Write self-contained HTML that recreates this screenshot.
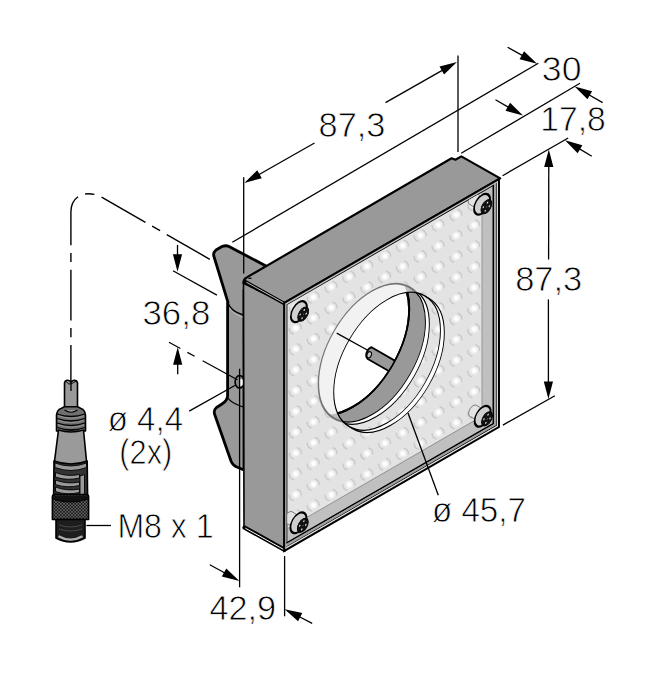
<!DOCTYPE html>
<html><head><meta charset="utf-8"><style>
html,body{margin:0;padding:0;background:#fff;}
svg{display:block;}
text{font-family:"Liberation Sans",sans-serif;fill:#000;stroke:#fff;stroke-width:0.8px;}
</style></head><body>
<svg width="651" height="700" viewBox="0 0 651 700">
<defs>
<radialGradient id="led" cx="0.5" cy="0.5" r="0.5">
<stop offset="0" stop-color="#fff"/><stop offset="0.3" stop-color="#fff"/><stop offset="0.65" stop-color="#fff" stop-opacity="0.45"/><stop offset="1" stop-color="#fff" stop-opacity="0"/>
</radialGradient>
<clipPath id="cCs"><circle cx="79.1" cy="78.3" r="65.2" transform="matrix(0.866,-0.5,0,1,284.2,303)"/></clipPath>
<clipPath id="openclip"><rect x="3.6" y="3.6" width="237.4" height="237.4"/></clipPath>
<clipPath id="panelclip"><rect x="3.7" y="3.7" width="224.5" height="223.8" transform="matrix(0.866,-0.5,0,1,284.2,303)"/></clipPath>
</defs>
<line x1="458" y1="55.4" x2="458" y2="152" stroke="#000" stroke-width="1.3" />
<line x1="314.5" y1="142.96" x2="257.77" y2="175.24" stroke="#000" stroke-width="1.3" />
<polygon points="244.3,182.9 257.24,170.25 261.79,178.24" fill="#000"/>
<line x1="385.5" y1="102.6" x2="443.53" y2="69.57" stroke="#000" stroke-width="1.3" />
<polygon points="457,61.9 444.07,74.55 439.52,66.56" fill="#000"/>
<line x1="232.3" y1="242.3" x2="538.3" y2="63.2" stroke="#000" stroke-width="1.3" />
<line x1="461.2" y1="153.3" x2="580" y2="83.2" stroke="#000" stroke-width="1.3" />
<line x1="502.6" y1="175.7" x2="568.2" y2="138" stroke="#000" stroke-width="1.3" />
<line x1="507.6" y1="47.2" x2="523.57" y2="56.13" stroke="#000" stroke-width="1.3" />
<polygon points="537.1,63.7 519.58,59.17 524.07,51.14" fill="#000"/>
<line x1="602.6" y1="102.6" x2="588.04" y2="94.23" stroke="#000" stroke-width="1.3" />
<polygon points="574.6,86.5 592.06,91.24 587.48,99.21" fill="#000"/>
<line x1="495.5" y1="99.8" x2="509.54" y2="107.82" stroke="#000" stroke-width="1.3" />
<polygon points="523,115.5 505.52,110.82 510.08,102.83" fill="#000"/>
<line x1="591.8" y1="156.3" x2="578.29" y2="148.18" stroke="#000" stroke-width="1.3" />
<polygon points="565,140.2 582.37,145.27 577.63,153.16" fill="#000"/>
<line x1="502.9" y1="425.1" x2="554.9" y2="395.7" stroke="#000" stroke-width="1.3" />
<line x1="548.6" y1="259.4" x2="548.77" y2="164.9" stroke="#000" stroke-width="1.3" />
<polygon points="548.8,149.4 553.37,166.91 544.17,166.89" fill="#000"/>
<line x1="548.4" y1="299.4" x2="548.4" y2="383.5" stroke="#000" stroke-width="1.3" />
<polygon points="548.4,399 543.8,381.5 553,381.5" fill="#000"/>
<line x1="284.6" y1="556.1" x2="284.6" y2="616.3" stroke="#000" stroke-width="1.3" />
<line x1="209.8" y1="564.7" x2="225.8" y2="573.46" stroke="#000" stroke-width="1.3" />
<polygon points="239.4,580.9 221.84,576.53 226.26,568.46" fill="#000"/>
<line x1="312.2" y1="623.4" x2="298.38" y2="616.29" stroke="#000" stroke-width="1.3" />
<polygon points="284.6,609.2 302.27,613.12 298.06,621.3" fill="#000"/>
<line x1="173" y1="270.7" x2="216.9" y2="295.1" stroke="#000" stroke-width="1.3" />
<line x1="177.5" y1="244.9" x2="177.5" y2="256.3" stroke="#000" stroke-width="1.3" />
<polygon points="177.5,271.8 172.9,254.3 182.1,254.3" fill="#000"/>
<line x1="177.7" y1="374.2" x2="177.7" y2="362.8" stroke="#000" stroke-width="1.3" />
<polygon points="177.7,347.3 182.3,364.8 173.1,364.8" fill="#000"/>
<line x1="86.4" y1="525.5" x2="111" y2="525.5" stroke="#000" stroke-width="1.3" />
<path d="M70.9,390 L70.9,212 C70.9,201 78,193.8 88,193.8 C93,193.8 97,194.6 101,196.7 L209.8,259.3" fill="none" stroke="#000" stroke-width="1.4" stroke-dasharray="50.6 7.7 9.2 7.7" stroke-dashoffset="5.6"/>
<path d="M266,266 L229,246.5 Q226,245 222,246.5 L216,250 Q213,252.5 213.8,256 L228,302.3 L227.6,302.3 L227.6,396 Q227,401 222,404 L216.5,407.5 Q213.5,410 214.5,414 L231,461 Q233,466 238,467.5 L244,470 L244,290 Z" fill="#999" stroke="#000" stroke-width="2.8" stroke-linejoin="round"/>
<path d="M228.5,304 Q231,311 243,315" fill="none" stroke="#000" stroke-width="1.5"/>
<path d="M229.5,307.5 Q232,313.5 243,317.5" fill="none" stroke="#bdbdbd" stroke-width="1"/>
<path d="M228,398 Q231,403 243,407" fill="none" stroke="#000" stroke-width="1.3"/>
<path d="M231,461 Q234,467 243,470" fill="none" stroke="#000" stroke-width="1"/>
<line x1="243.7" y1="177.2" x2="243.7" y2="273.4" stroke="#000" stroke-width="1.3" />
<ellipse cx="239.6" cy="381.8" rx="4.5" ry="6.3" fill="#888" stroke="#000" stroke-width="1.6"/>
<ellipse cx="241" cy="382.5" rx="1.8" ry="3.6" fill="#fff"/>
<line x1="239.6" y1="368.7" x2="239.6" y2="587.3" stroke="#000" stroke-width="1.3" />
<line x1="169" y1="342.2" x2="237.4" y2="379.8" stroke="#000" stroke-width="1.3" stroke-dasharray="13 8 8.2 9.2 60"/>
<line x1="189.2" y1="411.1" x2="235.3" y2="385.3" stroke="#000" stroke-width="1.3" />
<polygon points="243.5,282 284.2,303 284.2,549.5 244,526.5" fill="#999" stroke="#000" stroke-width="1.6" stroke-linejoin="round"/>
<line x1="244.6" y1="527.6" x2="284.2" y2="549.6" stroke="#000" stroke-width="4.4" stroke-linecap="round"/>
<line x1="245.4" y1="528.2" x2="284" y2="549.7" stroke="#fff" stroke-width="1.0"/>
<path d="M243.5,283 Q243.3,279 246.8,277.4 L451.6,158.3 L455.4,159.7 L461.3,156.4 L500.2,178.4 L284.2,303 Z" fill="#999" stroke="#000" stroke-width="2.2" stroke-linejoin="round"/>
<path d="M248.3,278.2 L251.5,278.3" stroke="#000" stroke-width="1.2"/>
<line x1="245.2" y1="281.6" x2="284.2" y2="303.4" stroke="#000" stroke-width="3.4" stroke-linecap="round"/>
<line x1="246.4" y1="282.2" x2="283.6" y2="302.9" stroke="#c4c4c4" stroke-width="1.0"/>
<g transform="matrix(0.866,-0.5,0,1,284.2,303.0)">
<rect x="0" y="0" width="248" height="248" fill="#c0c0c0"/>
<rect x="3.7" y="3.7" width="224.5" height="223.8" fill="#e3e3e3"/>
</g>
<g clip-path="url(#panelclip)">
<path d="M293.82,313.55 A6,6 0 0 1 289.39,307.23 M296.92,301.95 A6,6 0 0 1 301.35,308.27" fill="none" stroke="#c8c8c8" stroke-width="1.3"/>
<circle cx="295.67" cy="307.45" r="4.6" fill="url(#led)"/>
<path d="M293.82,334.35 A6,6 0 0 1 289.39,328.03 M296.92,322.75 A6,6 0 0 1 301.35,329.07" fill="none" stroke="#c8c8c8" stroke-width="1.3"/>
<circle cx="295.67" cy="328.25" r="4.6" fill="url(#led)"/>
<path d="M293.82,355.15 A6,6 0 0 1 289.39,348.83 M296.92,343.55 A6,6 0 0 1 301.35,349.87" fill="none" stroke="#c8c8c8" stroke-width="1.3"/>
<circle cx="295.67" cy="349.05" r="4.6" fill="url(#led)"/>
<path d="M293.82,375.95 A6,6 0 0 1 289.39,369.63 M296.92,364.35 A6,6 0 0 1 301.35,370.67" fill="none" stroke="#c8c8c8" stroke-width="1.3"/>
<circle cx="295.67" cy="369.85" r="4.6" fill="url(#led)"/>
<path d="M293.82,396.75 A6,6 0 0 1 289.39,390.43 M296.92,385.15 A6,6 0 0 1 301.35,391.47" fill="none" stroke="#c8c8c8" stroke-width="1.3"/>
<circle cx="295.67" cy="390.65" r="4.6" fill="url(#led)"/>
<path d="M293.82,417.55 A6,6 0 0 1 289.39,411.23 M296.92,405.95 A6,6 0 0 1 301.35,412.27" fill="none" stroke="#c8c8c8" stroke-width="1.3"/>
<circle cx="295.67" cy="411.45" r="4.6" fill="url(#led)"/>
<path d="M293.82,438.35 A6,6 0 0 1 289.39,432.03 M296.92,426.75 A6,6 0 0 1 301.35,433.07" fill="none" stroke="#c8c8c8" stroke-width="1.3"/>
<circle cx="295.67" cy="432.25" r="4.6" fill="url(#led)"/>
<path d="M293.82,459.15 A6,6 0 0 1 289.39,452.83 M296.92,447.55 A6,6 0 0 1 301.35,453.87" fill="none" stroke="#c8c8c8" stroke-width="1.3"/>
<circle cx="295.67" cy="453.05" r="4.6" fill="url(#led)"/>
<path d="M293.82,479.95 A6,6 0 0 1 289.39,473.63 M296.92,468.35 A6,6 0 0 1 301.35,474.67" fill="none" stroke="#c8c8c8" stroke-width="1.3"/>
<circle cx="295.67" cy="473.85" r="4.6" fill="url(#led)"/>
<path d="M293.82,500.75 A6,6 0 0 1 289.39,494.43 M296.92,489.15 A6,6 0 0 1 301.35,495.47" fill="none" stroke="#c8c8c8" stroke-width="1.3"/>
<circle cx="295.67" cy="494.65" r="4.6" fill="url(#led)"/>
<path d="M293.82,521.55 A6,6 0 0 1 289.39,515.23 M296.92,509.95 A6,6 0 0 1 301.35,516.27" fill="none" stroke="#c8c8c8" stroke-width="1.3"/>
<circle cx="295.67" cy="515.45" r="4.6" fill="url(#led)"/>
<path d="M311.66,303.25 A6,6 0 0 1 307.23,296.93 M314.76,291.65 A6,6 0 0 1 319.19,297.97" fill="none" stroke="#c8c8c8" stroke-width="1.3"/>
<circle cx="313.51" cy="297.15" r="4.6" fill="url(#led)"/>
<path d="M311.66,324.05 A6,6 0 0 1 307.23,317.73 M314.76,312.45 A6,6 0 0 1 319.19,318.77" fill="none" stroke="#c8c8c8" stroke-width="1.3"/>
<circle cx="313.51" cy="317.95" r="4.6" fill="url(#led)"/>
<path d="M311.66,344.85 A6,6 0 0 1 307.23,338.53 M314.76,333.25 A6,6 0 0 1 319.19,339.57" fill="none" stroke="#c8c8c8" stroke-width="1.3"/>
<circle cx="313.51" cy="338.75" r="4.6" fill="url(#led)"/>
<path d="M311.66,365.65 A6,6 0 0 1 307.23,359.33 M314.76,354.05 A6,6 0 0 1 319.19,360.37" fill="none" stroke="#c8c8c8" stroke-width="1.3"/>
<circle cx="313.51" cy="359.55" r="4.6" fill="url(#led)"/>
<path d="M311.66,386.45 A6,6 0 0 1 307.23,380.13 M314.76,374.85 A6,6 0 0 1 319.19,381.17" fill="none" stroke="#c8c8c8" stroke-width="1.3"/>
<circle cx="313.51" cy="380.35" r="4.6" fill="url(#led)"/>
<path d="M311.66,407.25 A6,6 0 0 1 307.23,400.93 M314.76,395.65 A6,6 0 0 1 319.19,401.97" fill="none" stroke="#c8c8c8" stroke-width="1.3"/>
<circle cx="313.51" cy="401.15" r="4.6" fill="url(#led)"/>
<path d="M311.66,428.05 A6,6 0 0 1 307.23,421.73 M314.76,416.45 A6,6 0 0 1 319.19,422.77" fill="none" stroke="#c8c8c8" stroke-width="1.3"/>
<circle cx="313.51" cy="421.95" r="4.6" fill="url(#led)"/>
<path d="M311.66,448.85 A6,6 0 0 1 307.23,442.53 M314.76,437.25 A6,6 0 0 1 319.19,443.57" fill="none" stroke="#c8c8c8" stroke-width="1.3"/>
<circle cx="313.51" cy="442.75" r="4.6" fill="url(#led)"/>
<path d="M311.66,469.65 A6,6 0 0 1 307.23,463.33 M314.76,458.05 A6,6 0 0 1 319.19,464.37" fill="none" stroke="#c8c8c8" stroke-width="1.3"/>
<circle cx="313.51" cy="463.55" r="4.6" fill="url(#led)"/>
<path d="M311.66,490.45 A6,6 0 0 1 307.23,484.13 M314.76,478.85 A6,6 0 0 1 319.19,485.17" fill="none" stroke="#c8c8c8" stroke-width="1.3"/>
<circle cx="313.51" cy="484.35" r="4.6" fill="url(#led)"/>
<path d="M311.66,511.25 A6,6 0 0 1 307.23,504.93 M314.76,499.65 A6,6 0 0 1 319.19,505.97" fill="none" stroke="#c8c8c8" stroke-width="1.3"/>
<circle cx="313.51" cy="505.15" r="4.6" fill="url(#led)"/>
<path d="M329.5,292.95 A6,6 0 0 1 325.07,286.63 M332.6,281.35 A6,6 0 0 1 337.03,287.67" fill="none" stroke="#c8c8c8" stroke-width="1.3"/>
<circle cx="331.35" cy="286.85" r="4.6" fill="url(#led)"/>
<path d="M329.5,313.75 A6,6 0 0 1 325.07,307.43 M332.6,302.15 A6,6 0 0 1 337.03,308.47" fill="none" stroke="#c8c8c8" stroke-width="1.3"/>
<circle cx="331.35" cy="307.65" r="4.6" fill="url(#led)"/>
<path d="M329.5,334.55 A6,6 0 0 1 325.07,328.23 M332.6,322.95 A6,6 0 0 1 337.03,329.27" fill="none" stroke="#c8c8c8" stroke-width="1.3"/>
<circle cx="331.35" cy="328.45" r="4.6" fill="url(#led)"/>
<path d="M329.5,355.35 A6,6 0 0 1 325.07,349.03 M332.6,343.75 A6,6 0 0 1 337.03,350.07" fill="none" stroke="#c8c8c8" stroke-width="1.3"/>
<circle cx="331.35" cy="349.25" r="4.6" fill="url(#led)"/>
<path d="M329.5,376.15 A6,6 0 0 1 325.07,369.83 M332.6,364.55 A6,6 0 0 1 337.03,370.87" fill="none" stroke="#c8c8c8" stroke-width="1.3"/>
<circle cx="331.35" cy="370.05" r="4.6" fill="url(#led)"/>
<path d="M329.5,396.95 A6,6 0 0 1 325.07,390.63 M332.6,385.35 A6,6 0 0 1 337.03,391.67" fill="none" stroke="#c8c8c8" stroke-width="1.3"/>
<circle cx="331.35" cy="390.85" r="4.6" fill="url(#led)"/>
<path d="M329.5,417.75 A6,6 0 0 1 325.07,411.43 M332.6,406.15 A6,6 0 0 1 337.03,412.47" fill="none" stroke="#c8c8c8" stroke-width="1.3"/>
<circle cx="331.35" cy="411.65" r="4.6" fill="url(#led)"/>
<path d="M329.5,438.55 A6,6 0 0 1 325.07,432.23 M332.6,426.95 A6,6 0 0 1 337.03,433.27" fill="none" stroke="#c8c8c8" stroke-width="1.3"/>
<circle cx="331.35" cy="432.45" r="4.6" fill="url(#led)"/>
<path d="M329.5,459.35 A6,6 0 0 1 325.07,453.03 M332.6,447.75 A6,6 0 0 1 337.03,454.07" fill="none" stroke="#c8c8c8" stroke-width="1.3"/>
<circle cx="331.35" cy="453.25" r="4.6" fill="url(#led)"/>
<path d="M329.5,480.15 A6,6 0 0 1 325.07,473.83 M332.6,468.55 A6,6 0 0 1 337.03,474.87" fill="none" stroke="#c8c8c8" stroke-width="1.3"/>
<circle cx="331.35" cy="474.05" r="4.6" fill="url(#led)"/>
<path d="M329.5,500.95 A6,6 0 0 1 325.07,494.63 M332.6,489.35 A6,6 0 0 1 337.03,495.67" fill="none" stroke="#c8c8c8" stroke-width="1.3"/>
<circle cx="331.35" cy="494.85" r="4.6" fill="url(#led)"/>
<path d="M347.34,282.65 A6,6 0 0 1 342.91,276.33 M350.44,271.05 A6,6 0 0 1 354.87,277.37" fill="none" stroke="#c8c8c8" stroke-width="1.3"/>
<circle cx="349.19" cy="276.55" r="4.6" fill="url(#led)"/>
<path d="M347.34,303.45 A6,6 0 0 1 342.91,297.13 M350.44,291.85 A6,6 0 0 1 354.87,298.17" fill="none" stroke="#c8c8c8" stroke-width="1.3"/>
<circle cx="349.19" cy="297.35" r="4.6" fill="url(#led)"/>
<path d="M347.34,324.25 A6,6 0 0 1 342.91,317.93 M350.44,312.65 A6,6 0 0 1 354.87,318.97" fill="none" stroke="#c8c8c8" stroke-width="1.3"/>
<circle cx="349.19" cy="318.15" r="4.6" fill="url(#led)"/>
<path d="M347.34,345.05 A6,6 0 0 1 342.91,338.73 M350.44,333.45 A6,6 0 0 1 354.87,339.77" fill="none" stroke="#c8c8c8" stroke-width="1.3"/>
<circle cx="349.19" cy="338.95" r="4.6" fill="url(#led)"/>
<path d="M347.34,365.85 A6,6 0 0 1 342.91,359.53 M350.44,354.25 A6,6 0 0 1 354.87,360.57" fill="none" stroke="#c8c8c8" stroke-width="1.3"/>
<circle cx="349.19" cy="359.75" r="4.6" fill="url(#led)"/>
<path d="M347.34,386.65 A6,6 0 0 1 342.91,380.33 M350.44,375.05 A6,6 0 0 1 354.87,381.37" fill="none" stroke="#c8c8c8" stroke-width="1.3"/>
<circle cx="349.19" cy="380.55" r="4.6" fill="url(#led)"/>
<path d="M347.34,407.45 A6,6 0 0 1 342.91,401.13 M350.44,395.85 A6,6 0 0 1 354.87,402.17" fill="none" stroke="#c8c8c8" stroke-width="1.3"/>
<circle cx="349.19" cy="401.35" r="4.6" fill="url(#led)"/>
<path d="M347.34,428.25 A6,6 0 0 1 342.91,421.93 M350.44,416.65 A6,6 0 0 1 354.87,422.97" fill="none" stroke="#c8c8c8" stroke-width="1.3"/>
<circle cx="349.19" cy="422.15" r="4.6" fill="url(#led)"/>
<path d="M347.34,449.05 A6,6 0 0 1 342.91,442.73 M350.44,437.45 A6,6 0 0 1 354.87,443.77" fill="none" stroke="#c8c8c8" stroke-width="1.3"/>
<circle cx="349.19" cy="442.95" r="4.6" fill="url(#led)"/>
<path d="M347.34,469.85 A6,6 0 0 1 342.91,463.53 M350.44,458.25 A6,6 0 0 1 354.87,464.57" fill="none" stroke="#c8c8c8" stroke-width="1.3"/>
<circle cx="349.19" cy="463.75" r="4.6" fill="url(#led)"/>
<path d="M347.34,490.65 A6,6 0 0 1 342.91,484.33 M350.44,479.05 A6,6 0 0 1 354.87,485.37" fill="none" stroke="#c8c8c8" stroke-width="1.3"/>
<circle cx="349.19" cy="484.55" r="4.6" fill="url(#led)"/>
<path d="M365.18,272.35 A6,6 0 0 1 360.75,266.03 M368.28,260.75 A6,6 0 0 1 372.71,267.07" fill="none" stroke="#c8c8c8" stroke-width="1.3"/>
<circle cx="367.03" cy="266.25" r="4.6" fill="url(#led)"/>
<path d="M365.18,293.15 A6,6 0 0 1 360.75,286.83 M368.28,281.55 A6,6 0 0 1 372.71,287.87" fill="none" stroke="#c8c8c8" stroke-width="1.3"/>
<circle cx="367.03" cy="287.05" r="4.6" fill="url(#led)"/>
<path d="M365.18,313.95 A6,6 0 0 1 360.75,307.63 M368.28,302.35 A6,6 0 0 1 372.71,308.67" fill="none" stroke="#c8c8c8" stroke-width="1.3"/>
<circle cx="367.03" cy="307.85" r="4.6" fill="url(#led)"/>
<path d="M365.18,334.75 A6,6 0 0 1 360.75,328.43 M368.28,323.15 A6,6 0 0 1 372.71,329.47" fill="none" stroke="#c8c8c8" stroke-width="1.3"/>
<circle cx="367.03" cy="328.65" r="4.6" fill="url(#led)"/>
<path d="M365.18,355.55 A6,6 0 0 1 360.75,349.23 M368.28,343.95 A6,6 0 0 1 372.71,350.27" fill="none" stroke="#c8c8c8" stroke-width="1.3"/>
<circle cx="367.03" cy="349.45" r="4.6" fill="url(#led)"/>
<path d="M365.18,376.35 A6,6 0 0 1 360.75,370.03 M368.28,364.75 A6,6 0 0 1 372.71,371.07" fill="none" stroke="#c8c8c8" stroke-width="1.3"/>
<circle cx="367.03" cy="370.25" r="4.6" fill="url(#led)"/>
<path d="M365.18,397.15 A6,6 0 0 1 360.75,390.83 M368.28,385.55 A6,6 0 0 1 372.71,391.87" fill="none" stroke="#c8c8c8" stroke-width="1.3"/>
<circle cx="367.03" cy="391.05" r="4.6" fill="url(#led)"/>
<path d="M365.18,417.95 A6,6 0 0 1 360.75,411.63 M368.28,406.35 A6,6 0 0 1 372.71,412.67" fill="none" stroke="#c8c8c8" stroke-width="1.3"/>
<circle cx="367.03" cy="411.85" r="4.6" fill="url(#led)"/>
<path d="M365.18,438.75 A6,6 0 0 1 360.75,432.43 M368.28,427.15 A6,6 0 0 1 372.71,433.47" fill="none" stroke="#c8c8c8" stroke-width="1.3"/>
<circle cx="367.03" cy="432.65" r="4.6" fill="url(#led)"/>
<path d="M365.18,459.55 A6,6 0 0 1 360.75,453.23 M368.28,447.95 A6,6 0 0 1 372.71,454.27" fill="none" stroke="#c8c8c8" stroke-width="1.3"/>
<circle cx="367.03" cy="453.45" r="4.6" fill="url(#led)"/>
<path d="M365.18,480.35 A6,6 0 0 1 360.75,474.03 M368.28,468.75 A6,6 0 0 1 372.71,475.07" fill="none" stroke="#c8c8c8" stroke-width="1.3"/>
<circle cx="367.03" cy="474.25" r="4.6" fill="url(#led)"/>
<path d="M383.02,262.05 A6,6 0 0 1 378.59,255.73 M386.12,250.45 A6,6 0 0 1 390.55,256.77" fill="none" stroke="#c8c8c8" stroke-width="1.3"/>
<circle cx="384.87" cy="255.95" r="4.6" fill="url(#led)"/>
<path d="M383.02,282.85 A6,6 0 0 1 378.59,276.53 M386.12,271.25 A6,6 0 0 1 390.55,277.57" fill="none" stroke="#c8c8c8" stroke-width="1.3"/>
<circle cx="384.87" cy="276.75" r="4.6" fill="url(#led)"/>
<path d="M383.02,303.65 A6,6 0 0 1 378.59,297.33 M386.12,292.05 A6,6 0 0 1 390.55,298.37" fill="none" stroke="#c8c8c8" stroke-width="1.3"/>
<circle cx="384.87" cy="297.55" r="4.6" fill="url(#led)"/>
<path d="M383.02,324.45 A6,6 0 0 1 378.59,318.13 M386.12,312.85 A6,6 0 0 1 390.55,319.17" fill="none" stroke="#c8c8c8" stroke-width="1.3"/>
<circle cx="384.87" cy="318.35" r="4.6" fill="url(#led)"/>
<path d="M383.02,345.25 A6,6 0 0 1 378.59,338.93 M386.12,333.65 A6,6 0 0 1 390.55,339.97" fill="none" stroke="#c8c8c8" stroke-width="1.3"/>
<circle cx="384.87" cy="339.15" r="4.6" fill="url(#led)"/>
<path d="M383.02,366.05 A6,6 0 0 1 378.59,359.73 M386.12,354.45 A6,6 0 0 1 390.55,360.77" fill="none" stroke="#c8c8c8" stroke-width="1.3"/>
<circle cx="384.87" cy="359.95" r="4.6" fill="url(#led)"/>
<path d="M383.02,386.85 A6,6 0 0 1 378.59,380.53 M386.12,375.25 A6,6 0 0 1 390.55,381.57" fill="none" stroke="#c8c8c8" stroke-width="1.3"/>
<circle cx="384.87" cy="380.75" r="4.6" fill="url(#led)"/>
<path d="M383.02,407.65 A6,6 0 0 1 378.59,401.33 M386.12,396.05 A6,6 0 0 1 390.55,402.37" fill="none" stroke="#c8c8c8" stroke-width="1.3"/>
<circle cx="384.87" cy="401.55" r="4.6" fill="url(#led)"/>
<path d="M383.02,428.45 A6,6 0 0 1 378.59,422.13 M386.12,416.85 A6,6 0 0 1 390.55,423.17" fill="none" stroke="#c8c8c8" stroke-width="1.3"/>
<circle cx="384.87" cy="422.35" r="4.6" fill="url(#led)"/>
<path d="M383.02,449.25 A6,6 0 0 1 378.59,442.93 M386.12,437.65 A6,6 0 0 1 390.55,443.97" fill="none" stroke="#c8c8c8" stroke-width="1.3"/>
<circle cx="384.87" cy="443.15" r="4.6" fill="url(#led)"/>
<path d="M383.02,470.05 A6,6 0 0 1 378.59,463.73 M386.12,458.45 A6,6 0 0 1 390.55,464.77" fill="none" stroke="#c8c8c8" stroke-width="1.3"/>
<circle cx="384.87" cy="463.95" r="4.6" fill="url(#led)"/>
<path d="M400.86,251.75 A6,6 0 0 1 396.43,245.43 M403.96,240.15 A6,6 0 0 1 408.39,246.47" fill="none" stroke="#c8c8c8" stroke-width="1.3"/>
<circle cx="402.71" cy="245.65" r="4.6" fill="url(#led)"/>
<path d="M400.86,272.55 A6,6 0 0 1 396.43,266.23 M403.96,260.95 A6,6 0 0 1 408.39,267.27" fill="none" stroke="#c8c8c8" stroke-width="1.3"/>
<circle cx="402.71" cy="266.45" r="4.6" fill="url(#led)"/>
<path d="M400.86,293.35 A6,6 0 0 1 396.43,287.03 M403.96,281.75 A6,6 0 0 1 408.39,288.07" fill="none" stroke="#c8c8c8" stroke-width="1.3"/>
<circle cx="402.71" cy="287.25" r="4.6" fill="url(#led)"/>
<path d="M400.86,314.15 A6,6 0 0 1 396.43,307.83 M403.96,302.55 A6,6 0 0 1 408.39,308.87" fill="none" stroke="#c8c8c8" stroke-width="1.3"/>
<circle cx="402.71" cy="308.05" r="4.6" fill="url(#led)"/>
<path d="M400.86,334.95 A6,6 0 0 1 396.43,328.63 M403.96,323.35 A6,6 0 0 1 408.39,329.67" fill="none" stroke="#c8c8c8" stroke-width="1.3"/>
<circle cx="402.71" cy="328.85" r="4.6" fill="url(#led)"/>
<path d="M400.86,355.75 A6,6 0 0 1 396.43,349.43 M403.96,344.15 A6,6 0 0 1 408.39,350.47" fill="none" stroke="#c8c8c8" stroke-width="1.3"/>
<circle cx="402.71" cy="349.65" r="4.6" fill="url(#led)"/>
<path d="M400.86,376.55 A6,6 0 0 1 396.43,370.23 M403.96,364.95 A6,6 0 0 1 408.39,371.27" fill="none" stroke="#c8c8c8" stroke-width="1.3"/>
<circle cx="402.71" cy="370.45" r="4.6" fill="url(#led)"/>
<path d="M400.86,397.35 A6,6 0 0 1 396.43,391.03 M403.96,385.75 A6,6 0 0 1 408.39,392.07" fill="none" stroke="#c8c8c8" stroke-width="1.3"/>
<circle cx="402.71" cy="391.25" r="4.6" fill="url(#led)"/>
<path d="M400.86,418.15 A6,6 0 0 1 396.43,411.83 M403.96,406.55 A6,6 0 0 1 408.39,412.87" fill="none" stroke="#c8c8c8" stroke-width="1.3"/>
<circle cx="402.71" cy="412.05" r="4.6" fill="url(#led)"/>
<path d="M400.86,438.95 A6,6 0 0 1 396.43,432.63 M403.96,427.35 A6,6 0 0 1 408.39,433.67" fill="none" stroke="#c8c8c8" stroke-width="1.3"/>
<circle cx="402.71" cy="432.85" r="4.6" fill="url(#led)"/>
<path d="M400.86,459.75 A6,6 0 0 1 396.43,453.43 M403.96,448.15 A6,6 0 0 1 408.39,454.47" fill="none" stroke="#c8c8c8" stroke-width="1.3"/>
<circle cx="402.71" cy="453.65" r="4.6" fill="url(#led)"/>
<path d="M418.7,241.45 A6,6 0 0 1 414.27,235.13 M421.8,229.85 A6,6 0 0 1 426.23,236.17" fill="none" stroke="#c8c8c8" stroke-width="1.3"/>
<circle cx="420.55" cy="235.35" r="4.6" fill="url(#led)"/>
<path d="M418.7,262.25 A6,6 0 0 1 414.27,255.93 M421.8,250.65 A6,6 0 0 1 426.23,256.97" fill="none" stroke="#c8c8c8" stroke-width="1.3"/>
<circle cx="420.55" cy="256.15" r="4.6" fill="url(#led)"/>
<path d="M418.7,283.05 A6,6 0 0 1 414.27,276.73 M421.8,271.45 A6,6 0 0 1 426.23,277.77" fill="none" stroke="#c8c8c8" stroke-width="1.3"/>
<circle cx="420.55" cy="276.95" r="4.6" fill="url(#led)"/>
<path d="M418.7,303.85 A6,6 0 0 1 414.27,297.53 M421.8,292.25 A6,6 0 0 1 426.23,298.57" fill="none" stroke="#c8c8c8" stroke-width="1.3"/>
<circle cx="420.55" cy="297.75" r="4.6" fill="url(#led)"/>
<path d="M418.7,324.65 A6,6 0 0 1 414.27,318.33 M421.8,313.05 A6,6 0 0 1 426.23,319.37" fill="none" stroke="#c8c8c8" stroke-width="1.3"/>
<circle cx="420.55" cy="318.55" r="4.6" fill="url(#led)"/>
<path d="M418.7,345.45 A6,6 0 0 1 414.27,339.13 M421.8,333.85 A6,6 0 0 1 426.23,340.17" fill="none" stroke="#c8c8c8" stroke-width="1.3"/>
<circle cx="420.55" cy="339.35" r="4.6" fill="url(#led)"/>
<path d="M418.7,366.25 A6,6 0 0 1 414.27,359.93 M421.8,354.65 A6,6 0 0 1 426.23,360.97" fill="none" stroke="#c8c8c8" stroke-width="1.3"/>
<circle cx="420.55" cy="360.15" r="4.6" fill="url(#led)"/>
<path d="M418.7,387.05 A6,6 0 0 1 414.27,380.73 M421.8,375.45 A6,6 0 0 1 426.23,381.77" fill="none" stroke="#c8c8c8" stroke-width="1.3"/>
<circle cx="420.55" cy="380.95" r="4.6" fill="url(#led)"/>
<path d="M418.7,407.85 A6,6 0 0 1 414.27,401.53 M421.8,396.25 A6,6 0 0 1 426.23,402.57" fill="none" stroke="#c8c8c8" stroke-width="1.3"/>
<circle cx="420.55" cy="401.75" r="4.6" fill="url(#led)"/>
<path d="M418.7,428.65 A6,6 0 0 1 414.27,422.33 M421.8,417.05 A6,6 0 0 1 426.23,423.37" fill="none" stroke="#c8c8c8" stroke-width="1.3"/>
<circle cx="420.55" cy="422.55" r="4.6" fill="url(#led)"/>
<path d="M418.7,449.45 A6,6 0 0 1 414.27,443.13 M421.8,437.85 A6,6 0 0 1 426.23,444.17" fill="none" stroke="#c8c8c8" stroke-width="1.3"/>
<circle cx="420.55" cy="443.35" r="4.6" fill="url(#led)"/>
<path d="M436.54,231.15 A6,6 0 0 1 432.11,224.83 M439.64,219.55 A6,6 0 0 1 444.07,225.87" fill="none" stroke="#c8c8c8" stroke-width="1.3"/>
<circle cx="438.39" cy="225.05" r="4.6" fill="url(#led)"/>
<path d="M436.54,251.95 A6,6 0 0 1 432.11,245.63 M439.64,240.35 A6,6 0 0 1 444.07,246.67" fill="none" stroke="#c8c8c8" stroke-width="1.3"/>
<circle cx="438.39" cy="245.85" r="4.6" fill="url(#led)"/>
<path d="M436.54,272.75 A6,6 0 0 1 432.11,266.43 M439.64,261.15 A6,6 0 0 1 444.07,267.47" fill="none" stroke="#c8c8c8" stroke-width="1.3"/>
<circle cx="438.39" cy="266.65" r="4.6" fill="url(#led)"/>
<path d="M436.54,293.55 A6,6 0 0 1 432.11,287.23 M439.64,281.95 A6,6 0 0 1 444.07,288.27" fill="none" stroke="#c8c8c8" stroke-width="1.3"/>
<circle cx="438.39" cy="287.45" r="4.6" fill="url(#led)"/>
<path d="M436.54,314.35 A6,6 0 0 1 432.11,308.03 M439.64,302.75 A6,6 0 0 1 444.07,309.07" fill="none" stroke="#c8c8c8" stroke-width="1.3"/>
<circle cx="438.39" cy="308.25" r="4.6" fill="url(#led)"/>
<path d="M436.54,335.15 A6,6 0 0 1 432.11,328.83 M439.64,323.55 A6,6 0 0 1 444.07,329.87" fill="none" stroke="#c8c8c8" stroke-width="1.3"/>
<circle cx="438.39" cy="329.05" r="4.6" fill="url(#led)"/>
<path d="M436.54,355.95 A6,6 0 0 1 432.11,349.63 M439.64,344.35 A6,6 0 0 1 444.07,350.67" fill="none" stroke="#c8c8c8" stroke-width="1.3"/>
<circle cx="438.39" cy="349.85" r="4.6" fill="url(#led)"/>
<path d="M436.54,376.75 A6,6 0 0 1 432.11,370.43 M439.64,365.15 A6,6 0 0 1 444.07,371.47" fill="none" stroke="#c8c8c8" stroke-width="1.3"/>
<circle cx="438.39" cy="370.65" r="4.6" fill="url(#led)"/>
<path d="M436.54,397.55 A6,6 0 0 1 432.11,391.23 M439.64,385.95 A6,6 0 0 1 444.07,392.27" fill="none" stroke="#c8c8c8" stroke-width="1.3"/>
<circle cx="438.39" cy="391.45" r="4.6" fill="url(#led)"/>
<path d="M436.54,418.35 A6,6 0 0 1 432.11,412.03 M439.64,406.75 A6,6 0 0 1 444.07,413.07" fill="none" stroke="#c8c8c8" stroke-width="1.3"/>
<circle cx="438.39" cy="412.25" r="4.6" fill="url(#led)"/>
<path d="M436.54,439.15 A6,6 0 0 1 432.11,432.83 M439.64,427.55 A6,6 0 0 1 444.07,433.87" fill="none" stroke="#c8c8c8" stroke-width="1.3"/>
<circle cx="438.39" cy="433.05" r="4.6" fill="url(#led)"/>
<path d="M454.37,220.85 A6,6 0 0 1 449.95,214.53 M457.48,209.25 A6,6 0 0 1 461.9,215.57" fill="none" stroke="#c8c8c8" stroke-width="1.3"/>
<circle cx="456.23" cy="214.75" r="4.6" fill="url(#led)"/>
<path d="M454.37,241.65 A6,6 0 0 1 449.95,235.33 M457.48,230.05 A6,6 0 0 1 461.9,236.37" fill="none" stroke="#c8c8c8" stroke-width="1.3"/>
<circle cx="456.23" cy="235.55" r="4.6" fill="url(#led)"/>
<path d="M454.37,262.45 A6,6 0 0 1 449.95,256.13 M457.48,250.85 A6,6 0 0 1 461.9,257.17" fill="none" stroke="#c8c8c8" stroke-width="1.3"/>
<circle cx="456.23" cy="256.35" r="4.6" fill="url(#led)"/>
<path d="M454.37,283.25 A6,6 0 0 1 449.95,276.93 M457.48,271.65 A6,6 0 0 1 461.9,277.97" fill="none" stroke="#c8c8c8" stroke-width="1.3"/>
<circle cx="456.23" cy="277.15" r="4.6" fill="url(#led)"/>
<path d="M454.37,304.05 A6,6 0 0 1 449.95,297.73 M457.48,292.45 A6,6 0 0 1 461.9,298.77" fill="none" stroke="#c8c8c8" stroke-width="1.3"/>
<circle cx="456.23" cy="297.95" r="4.6" fill="url(#led)"/>
<path d="M454.37,324.85 A6,6 0 0 1 449.95,318.53 M457.48,313.25 A6,6 0 0 1 461.9,319.57" fill="none" stroke="#c8c8c8" stroke-width="1.3"/>
<circle cx="456.23" cy="318.75" r="4.6" fill="url(#led)"/>
<path d="M454.37,345.65 A6,6 0 0 1 449.95,339.33 M457.48,334.05 A6,6 0 0 1 461.9,340.37" fill="none" stroke="#c8c8c8" stroke-width="1.3"/>
<circle cx="456.23" cy="339.55" r="4.6" fill="url(#led)"/>
<path d="M454.37,366.45 A6,6 0 0 1 449.95,360.13 M457.48,354.85 A6,6 0 0 1 461.9,361.17" fill="none" stroke="#c8c8c8" stroke-width="1.3"/>
<circle cx="456.23" cy="360.35" r="4.6" fill="url(#led)"/>
<path d="M454.37,387.25 A6,6 0 0 1 449.95,380.93 M457.48,375.65 A6,6 0 0 1 461.9,381.97" fill="none" stroke="#c8c8c8" stroke-width="1.3"/>
<circle cx="456.23" cy="381.15" r="4.6" fill="url(#led)"/>
<path d="M454.37,408.05 A6,6 0 0 1 449.95,401.73 M457.48,396.45 A6,6 0 0 1 461.9,402.77" fill="none" stroke="#c8c8c8" stroke-width="1.3"/>
<circle cx="456.23" cy="401.95" r="4.6" fill="url(#led)"/>
<path d="M454.37,428.85 A6,6 0 0 1 449.95,422.53 M457.48,417.25 A6,6 0 0 1 461.9,423.57" fill="none" stroke="#c8c8c8" stroke-width="1.3"/>
<circle cx="456.23" cy="422.75" r="4.6" fill="url(#led)"/>
<path d="M472.21,210.55 A6,6 0 0 1 467.79,204.23 M475.32,198.95 A6,6 0 0 1 479.74,205.27" fill="none" stroke="#c8c8c8" stroke-width="1.3"/>
<circle cx="474.07" cy="204.45" r="4.6" fill="url(#led)"/>
<path d="M472.21,231.35 A6,6 0 0 1 467.79,225.03 M475.32,219.75 A6,6 0 0 1 479.74,226.07" fill="none" stroke="#c8c8c8" stroke-width="1.3"/>
<circle cx="474.07" cy="225.25" r="4.6" fill="url(#led)"/>
<path d="M472.21,252.15 A6,6 0 0 1 467.79,245.83 M475.32,240.55 A6,6 0 0 1 479.74,246.87" fill="none" stroke="#c8c8c8" stroke-width="1.3"/>
<circle cx="474.07" cy="246.05" r="4.6" fill="url(#led)"/>
<path d="M472.21,272.95 A6,6 0 0 1 467.79,266.63 M475.32,261.35 A6,6 0 0 1 479.74,267.67" fill="none" stroke="#c8c8c8" stroke-width="1.3"/>
<circle cx="474.07" cy="266.85" r="4.6" fill="url(#led)"/>
<path d="M472.21,293.75 A6,6 0 0 1 467.79,287.43 M475.32,282.15 A6,6 0 0 1 479.74,288.47" fill="none" stroke="#c8c8c8" stroke-width="1.3"/>
<circle cx="474.07" cy="287.65" r="4.6" fill="url(#led)"/>
<path d="M472.21,314.55 A6,6 0 0 1 467.79,308.23 M475.32,302.95 A6,6 0 0 1 479.74,309.27" fill="none" stroke="#c8c8c8" stroke-width="1.3"/>
<circle cx="474.07" cy="308.45" r="4.6" fill="url(#led)"/>
<path d="M472.21,335.35 A6,6 0 0 1 467.79,329.03 M475.32,323.75 A6,6 0 0 1 479.74,330.07" fill="none" stroke="#c8c8c8" stroke-width="1.3"/>
<circle cx="474.07" cy="329.25" r="4.6" fill="url(#led)"/>
<path d="M472.21,356.15 A6,6 0 0 1 467.79,349.83 M475.32,344.55 A6,6 0 0 1 479.74,350.87" fill="none" stroke="#c8c8c8" stroke-width="1.3"/>
<circle cx="474.07" cy="350.05" r="4.6" fill="url(#led)"/>
<path d="M472.21,376.95 A6,6 0 0 1 467.79,370.63 M475.32,365.35 A6,6 0 0 1 479.74,371.67" fill="none" stroke="#c8c8c8" stroke-width="1.3"/>
<circle cx="474.07" cy="370.85" r="4.6" fill="url(#led)"/>
<path d="M472.21,397.75 A6,6 0 0 1 467.79,391.43 M475.32,386.15 A6,6 0 0 1 479.74,392.47" fill="none" stroke="#c8c8c8" stroke-width="1.3"/>
<circle cx="474.07" cy="391.65" r="4.6" fill="url(#led)"/>
<path d="M472.21,418.55 A6,6 0 0 1 467.79,412.23 M475.32,406.95 A6,6 0 0 1 479.74,413.27" fill="none" stroke="#c8c8c8" stroke-width="1.3"/>
<circle cx="474.07" cy="412.45" r="4.6" fill="url(#led)"/>
</g>
<g transform="matrix(0.866,-0.5,0,1,284.2,303.0)">
<path d="M241.4,2.5 L241.4,241.4 L2.5,241.4" fill="none" stroke="#000" stroke-width="1.7"/>
<path d="M243.5,2.5 L243.5,243.5 L2.5,243.5" fill="none" stroke="#a0a0a0" stroke-width="2.3"/>
<path d="M245.1,2.5 L245.1,245.1 L2.5,245.1" fill="none" stroke="#000" stroke-width="0.9"/>
<path d="M246.2,2.5 L246.2,246.2 L2.5,246.2" fill="none" stroke="#e6e6e6" stroke-width="1.3"/>
<path d="M3.2,241.4 L3.2,3.2 L241.4,3.2" fill="none" stroke="#000" stroke-width="0.9"/>
<path d="M228.4,3.7 L228.4,227.5 L3.7,227.5" fill="none" stroke="#8a8a8a" stroke-width="0.9"/>
<rect x="0" y="0" width="248" height="248" fill="none" stroke="#000" stroke-width="2.3"/>
</g>
<g transform="matrix(0.866,-0.5,0,1,284.2,303.0)">
<defs><clipPath id="cB"><circle cx="118.8" cy="117.7" r="61.6" /></clipPath><clipPath id="cA"><circle cx="101.3" cy="100.5" r="61.8" /></clipPath><clipPath id="cAout"><path clip-rule="evenodd" d="M-100,-100 H400 V400 H-100 Z M39.5,100.5 a61.8,61.8 0 1,0 123.6,0 a61.8,61.8 0 1,0 -123.6,0 Z"/></clipPath><clipPath id="cBout"><path clip-rule="evenodd" d="M-100,-100 H400 V400 H-100 Z M57.2,117.7 a61.6,61.6 0 1,0 123.2,0 a61.6,61.6 0 1,0 -123.2,0 Z"/></clipPath></defs>
<circle cx="101.3" cy="100.5" r="61.8" fill="#bdbdbd"/>
<g clip-path="url(#cA)"><circle cx="79.1" cy="78.3" r="65.2" fill="#f2f2f2"/></g>
<circle cx="101.3" cy="100.5" r="61.8" fill="none" stroke="#747474" stroke-width="1.6"/>
<g clip-path="url(#cB)"><circle cx="105.8" cy="105" r="61.8" fill="#fff"/><circle cx="101.3" cy="100.5" r="61.8" fill="#999"/><circle cx="79.1" cy="78.3" r="65.2" fill="#fff"/></g>
<g clip-path="url(#cB)"><circle cx="101.3" cy="100.5" r="61.8" fill="none" stroke="#000" stroke-width="1.1"/><circle cx="79.1" cy="78.3" r="65.2" fill="none" stroke="#000" stroke-width="2.3"/><g clip-path="url(#cAout)"><circle cx="105.8" cy="105" r="61.8" fill="none" stroke="#000" stroke-width="1.1"/></g></g>
<g clip-path="url(#cBout)"><circle cx="123.3" cy="122.2" r="61.6" fill="#fff" stroke="#000" stroke-width="1.1"/></g>
<circle cx="118.8" cy="117.7" r="61.6" fill="none" stroke="#000" stroke-width="1.1"/>
</g>
<g transform="matrix(0.866,-0.5,0,1,284.2,303.0)">
<circle cx="16.94" cy="17.07" r="9.3" fill="#d0d0d0" stroke="#000" stroke-width="2"/>
<circle cx="21.94" cy="22.07" r="6.3" fill="#111" stroke="#000" stroke-width="1"/>
<circle cx="25.42" cy="23.34" r="0.9" fill="#ddd"/>
<circle cx="20.67" cy="25.55" r="0.9" fill="#ddd"/>
<circle cx="18.46" cy="20.8" r="0.9" fill="#ddd"/>
<circle cx="23.21" cy="18.59" r="0.9" fill="#ddd"/>
<circle cx="22.24" cy="22.37" r="0.6" fill="#777"/>
</g>
<g transform="matrix(0.866,-0.5,0,1,284.2,303.0)">
<path clip-path="url(#openclip)" d="M224.81,19.12 L213.81,8.12 A5.2,5.2 0 0 1 221.16,0.77 L232.16,11.77 Z" fill="#e4e4e4" stroke="#666" stroke-width="0.8"/>
<circle cx="228.49" cy="15.44" r="9.3" fill="#d0d0d0" stroke="#000" stroke-width="2"/>
<circle cx="233.49" cy="20.44" r="6.3" fill="#111" stroke="#000" stroke-width="1"/>
<circle cx="236.96" cy="21.71" r="0.9" fill="#ddd"/>
<circle cx="232.22" cy="23.92" r="0.9" fill="#ddd"/>
<circle cx="230.01" cy="19.18" r="0.9" fill="#ddd"/>
<circle cx="234.75" cy="16.97" r="0.9" fill="#ddd"/>
<circle cx="233.79" cy="20.74" r="0.6" fill="#777"/>
</g>
<g transform="matrix(0.866,-0.5,0,1,284.2,303.0)">
<path clip-path="url(#openclip)" d="M225.5,231.57 L214.5,220.57 A5.2,5.2 0 0 1 221.86,213.21 L232.86,224.21 Z" fill="#e4e4e4" stroke="#666" stroke-width="0.8"/>
<circle cx="229.18" cy="227.89" r="9.3" fill="#d0d0d0" stroke="#000" stroke-width="2"/>
<circle cx="234.18" cy="232.89" r="6.3" fill="#111" stroke="#000" stroke-width="1"/>
<circle cx="237.66" cy="234.16" r="0.9" fill="#ddd"/>
<circle cx="232.91" cy="236.37" r="0.9" fill="#ddd"/>
<circle cx="230.7" cy="231.62" r="0.9" fill="#ddd"/>
<circle cx="235.45" cy="229.41" r="0.9" fill="#ddd"/>
<circle cx="234.48" cy="233.19" r="0.6" fill="#777"/>
</g>
<g transform="matrix(0.866,-0.5,0,1,284.2,303.0)">
<path clip-path="url(#openclip)" d="M12.8,231.72 L1.8,220.72 A5.2,5.2 0 0 1 9.16,213.36 L20.16,224.36 Z" fill="#e4e4e4" stroke="#666" stroke-width="0.8"/>
<circle cx="16.48" cy="228.04" r="9.3" fill="#d0d0d0" stroke="#000" stroke-width="2"/>
<circle cx="21.48" cy="233.04" r="6.3" fill="#111" stroke="#000" stroke-width="1"/>
<circle cx="24.95" cy="234.3" r="0.9" fill="#ddd"/>
<circle cx="20.21" cy="236.52" r="0.9" fill="#ddd"/>
<circle cx="18" cy="231.77" r="0.9" fill="#ddd"/>
<circle cx="22.74" cy="229.56" r="0.9" fill="#ddd"/>
<circle cx="21.78" cy="233.34" r="0.6" fill="#777"/>
</g>
<line x1="336.7" y1="333.1" x2="369.5" y2="351.3" stroke="#000" stroke-width="1.3"/>
<g clip-path="url(#cCs)">
<path d="M371.5,347.3 L400,363.6 L394,374 L367.8,359 Q365.5,357 366.5,353 Q368.5,348 371.5,347.3 Z" fill="#9a9a9a" stroke="#000" stroke-width="1.9" stroke-linejoin="round"/>
<ellipse cx="369.2" cy="354.8" rx="2.2" ry="3.2" transform="rotate(20 369.2 354.8)" fill="#c8c8c8" stroke="#000" stroke-width="1.1"/>
</g>
<g transform="matrix(0.866,-0.5,0,1,284.2,303.0)"><g clip-path="url(#cB)"><circle cx="79.1" cy="78.3" r="65.2" fill="none" stroke="#000" stroke-width="2.3"/></g></g>
<line x1="408" y1="413" x2="438.3" y2="495.3" stroke="#000" stroke-width="1.3" />
<defs><pattern id="knurl" width="3.2" height="3.2" patternUnits="userSpaceOnUse" patternTransform="translate(52,495) rotate(0)"><rect width="3.2" height="3.2" fill="#111"/><circle cx="0.8" cy="0.8" r="0.6" fill="#f0f0f0"/><circle cx="2.4" cy="2.4" r="0.6" fill="#f0f0f0"/></pattern></defs>
<g stroke="#000" stroke-linejoin="round">
<path d="M64.5,383 Q65,380 68,380.2 Q70,380.5 71,382 Q72,380.5 74,380.2 Q77,380 77.5,383 L77.5,414 L64.5,414 Z" fill="#999" stroke-width="1.6"/>
<path d="M66,381.5 Q69,385 71,384 Q73,383 76,381" fill="none" stroke-width="1"/>
<path d="M71,381 L71,391" fill="none" stroke-width="1.3"/>
<path d="M56.5,431 L56.5,415 Q57,410 61,408.5 L64.5,406.8 L77.5,406.8 L81,408.5 Q85,410 85.5,415 L85.5,431 Z" fill="#707070" stroke-width="1.6"/>
<path d="M64.5,410 Q71,414.5 77.5,410" fill="#999" stroke-width="1.2"/>
<path d="M57,414.0 Q71,419.0 85,414.0" fill="none" stroke-width="1.3"/>
<path d="M58,415.7 Q71,420.5 84,415.7" fill="none" stroke="#9a9a9a" stroke-width="0.9"/>
<path d="M57,418.5 Q71,423.5 85,418.5" fill="none" stroke-width="1.3"/>
<path d="M58,420.2 Q71,425 84,420.2" fill="none" stroke="#9a9a9a" stroke-width="0.9"/>
<path d="M57,423.0 Q71,428.0 85,423.0" fill="none" stroke-width="1.3"/>
<path d="M58,424.7 Q71,429.5 84,424.7" fill="none" stroke="#9a9a9a" stroke-width="0.9"/>
<path d="M57,427.5 Q71,432.5 85,427.5" fill="none" stroke-width="1.3"/>
<path d="M58,429.2 Q71,434 84,429.2" fill="none" stroke="#9a9a9a" stroke-width="0.9"/>
<path d="M58.5,430 Q71,434 83.5,430 L86.6,462 Q71,467 54.4,462 Z" fill="#9a9a9a" stroke-width="1.6"/>
<path d="M54,461 Q71,467 87.2,461 L87.6,497 L53.6,497 Z" fill="#333" stroke-width="1.6"/>
<path d="M55,463 Q71,469 86.5,463 L86.5,467.5 Q71,473.5 55,467.5 Z" fill="#9a9a9a" stroke-width="0.9"/>
<path d="M55.5,472.5 Q67,477.0 79.5,474.5 L79.5,478.0 Q67,481.0 55.5,477.1 Z" fill="#9a9a9a" stroke-width="0.9"/>
<path d="M55.5,480 Q67,484.5 79.5,482 L79.5,485.5 Q67,488.5 55.5,484.6 Z" fill="#9a9a9a" stroke-width="0.9"/>
<path d="M55.5,487 Q67,491.5 79.5,489 L79.5,492.5 Q67,495.5 55.5,491.6 Z" fill="#9a9a9a" stroke-width="0.9"/>
<path d="M55.5,493.7 Q67,498.2 79.5,495.7 L79.5,499.2 Q67,502.2 55.5,498.3 Z" fill="#9a9a9a" stroke-width="0.9"/>
<path d="M80,476 L84.5,474.5 L84.5,495 L80,496.5 Z" fill="#9a9a9a" stroke-width="0.9"/>
<path d="M52.4,497 Q52.4,494.5 55,494.5 L86,494.5 Q88.6,494.5 88.6,497 L88.6,519.5 L52.4,519.5 Z" fill="url(#knurl)" stroke-width="1.6"/>
<path d="M53.2,495.5 L87.8,495.5 L87.8,499 Q70.5,505 53.2,499 Z" fill="#111" stroke="none"/>
<path d="M53,499 Q70.5,505 88,499" fill="none" stroke-width="1.2"/>
<path d="M56,519.5 L85,519.5 L85,538 Q70.5,546 56,538 Z" fill="#1e1e1e" stroke-width="1.6"/>
<path d="M58.5,536.2 Q70.5,543 82.5,536.2" fill="none" stroke="#b0b0b0" stroke-width="2.4"/>
<path d="M59,525 Q70.5,529 82,525 M59,529 Q70.5,533 82,529" fill="none" stroke="#555" stroke-width="0.8"/>
</g>
<text x="318.59" y="136.6" font-size="35.2" textLength="66.8" lengthAdjust="spacingAndGlyphs">87,3</text>
<text x="541.88" y="80.9" font-size="35.2" textLength="39.63" lengthAdjust="spacingAndGlyphs">30</text>
<text x="540.25" y="131" font-size="35.2" textLength="65.54" lengthAdjust="spacingAndGlyphs">17,8</text>
<text x="515.15" y="290.7" font-size="35.2" textLength="67.1" lengthAdjust="spacingAndGlyphs">87,3</text>
<text x="142.53" y="324.5" font-size="35.2" textLength="67.75" lengthAdjust="spacingAndGlyphs">36,8</text>
<text x="107.67" y="430.6" font-size="35.2" textLength="75.4" lengthAdjust="spacingAndGlyphs">ø 4,4</text>
<text x="119.33" y="464.3" font-size="35.2" textLength="52.93" lengthAdjust="spacingAndGlyphs">(2x)</text>
<text x="117.4" y="537.6" font-size="35.2" textLength="96.23" lengthAdjust="spacingAndGlyphs">M8 x 1</text>
<text x="431.97" y="522" font-size="35.2" textLength="94.0" lengthAdjust="spacingAndGlyphs">ø 45,7</text>
<text x="209.42" y="620.1" font-size="35.2" textLength="66.65" lengthAdjust="spacingAndGlyphs">42,9</text>
</svg></body></html>
